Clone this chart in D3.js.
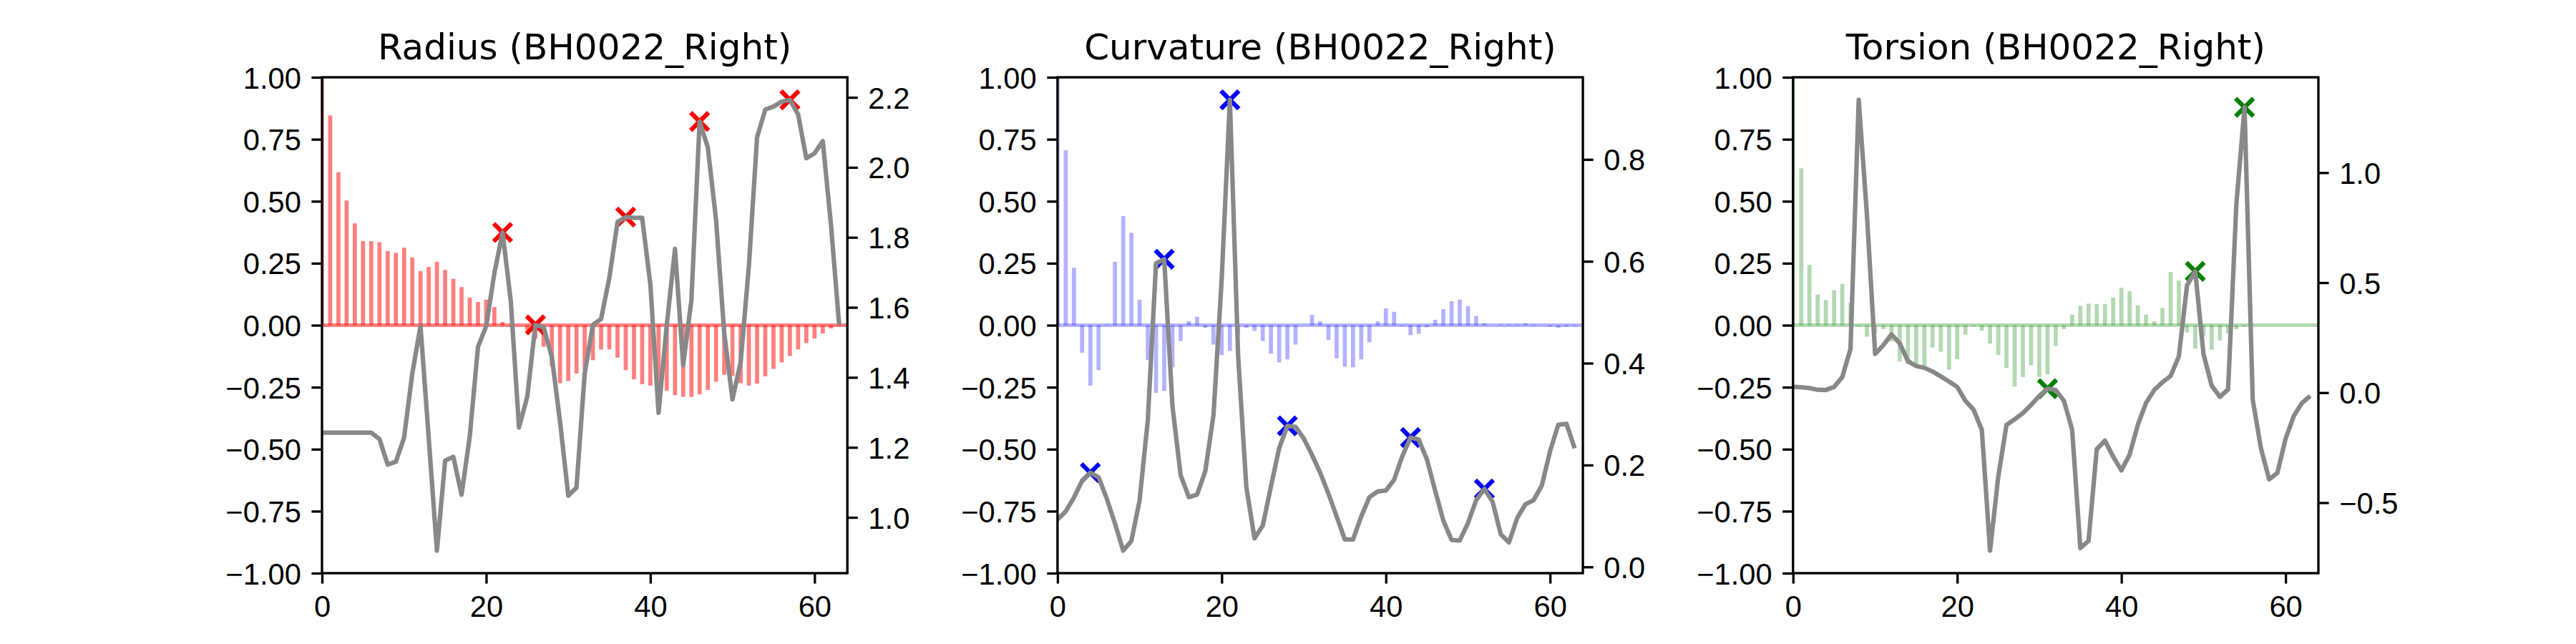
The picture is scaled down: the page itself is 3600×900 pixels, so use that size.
<!DOCTYPE html>
<html lang="en">
<head>
<meta charset="UTF-8">
<title>Radius / Curvature / Torsion (BH0022_Right)</title>
<script src="https://d3js.org/d3.v7.min.js"></script>
<style>
  body { margin: 0; background: #fff; }
  svg { display: block; font-family: "DejaVu Sans", sans-serif; }
  .tick text { font-size: 41.7px; fill: #000; }
  .tick line { stroke: #000; stroke-width: 3.33px; }
  .title { font-size: 50px; text-anchor: middle; }
</style>
</head>
<body>
<div id="chart"></div>
<script>
// ---- data (index 0..63) ----
const radiusBars = [1.0, 0.846, 0.617, 0.503, 0.411, 0.339, 0.339, 0.335, 0.299, 0.292,
  0.313, 0.273, 0.218, 0.235, 0.256, 0.223, 0.187, 0.154, 0.111, 0.094,
  0.103, 0.073, 0.013, -0.004, 0.0, -0.02, -0.055, -0.087, -0.166, -0.234,
  -0.225, -0.195, -0.179, -0.141, -0.098, -0.097, -0.131, -0.181, -0.218, -0.238,
  -0.244, -0.242, -0.264, -0.282, -0.289, -0.289, -0.279, -0.261, -0.228, -0.200,
  -0.205, -0.234, -0.243, -0.235, -0.206, -0.176, -0.150, -0.124, -0.097, -0.072,
  -0.054, -0.033, -0.013, -0.004];
const radiusLine = [1.242, 1.242, 1.242, 1.242, 1.242, 1.242, 1.242, 1.224, 1.151, 1.159,
  1.228, 1.411, 1.547, 1.227, 0.905, 1.162, 1.173, 1.065, 1.231, 1.487,
  1.546, 1.698, 1.814, 1.617, 1.257, 1.344, 1.550, 1.543, 1.458, 1.273,
  1.062, 1.085, 1.411, 1.550, 1.567, 1.684, 1.844, 1.858, 1.856, 1.856,
  1.666, 1.299, 1.550, 1.767, 1.435, 1.621, 2.131, 2.057, 1.851, 1.527,
  1.337, 1.444, 1.717, 2.086, 2.165, 2.174, 2.188, 2.193, 2.151, 2.026,
  2.040, 2.075, 1.837, 1.550];
const radiusPeaks = [22, 26, 37, 46, 57];
const radiusTicks = [1.0, 1.2, 1.4, 1.6, 1.8, 2.0, 2.2];

const curvBars = [1.0, 0.706, 0.232, -0.111, -0.244, -0.181, 0.003, 0.256, 0.440, 0.373,
  0.103, -0.140, -0.273, -0.265, -0.170, -0.064, 0.016, 0.034, -0.010, -0.078,
  -0.120, -0.104, -0.038, -0.010, -0.023, -0.064, -0.115, -0.150, -0.138, -0.078,
  0.0, 0.042, 0.016, -0.060, -0.133, -0.167, -0.170, -0.138, -0.069, 0.016,
  0.068, 0.054, -0.003, -0.040, -0.035, -0.008, 0.022, 0.065, 0.097, 0.103,
  0.077, 0.037, 0.007, 0.0, 0.003, 0.003, 0.003, 0.007, 0.003, -0.001,
  -0.005, -0.010, -0.005, -0.003];
const curvLine = [0.093, 0.109, 0.136, 0.169, 0.185, 0.176, 0.134, 0.085, 0.032, 0.051,
  0.131, 0.288, 0.596, 0.604, 0.316, 0.180, 0.137, 0.142, 0.188, 0.298,
  0.565, 0.917, 0.415, 0.157, 0.056, 0.081, 0.158, 0.233, 0.277, 0.275,
  0.252, 0.220, 0.185, 0.144, 0.099, 0.054, 0.054, 0.099, 0.137, 0.148,
  0.150, 0.171, 0.217, 0.254, 0.250, 0.211, 0.150, 0.091, 0.053, 0.052,
  0.086, 0.131, 0.153, 0.128, 0.064, 0.048, 0.096, 0.123, 0.131, 0.160,
  0.227, 0.279, 0.281, 0.233];
const curvPeaks = [4, 13, 21, 28, 43, 52];
const curvTicks = [0.0, 0.2, 0.4, 0.6, 0.8];

const torsBars = [1.0, 0.633, 0.243, 0.124, 0.102, 0.141, 0.167, 0.091, -0.004, -0.046,
  -0.035, -0.016, -0.065, -0.146, -0.157, -0.166, -0.163, -0.090, -0.107, -0.179,
  -0.137, -0.038, -0.005, -0.022, -0.074, -0.120, -0.172, -0.247, -0.209, -0.162,
  -0.208, -0.198, -0.084, -0.016, 0.043, 0.078, 0.087, 0.085, 0.085, 0.111,
  0.151, 0.137, 0.080, 0.043, 0.016, 0.070, 0.215, 0.180, -0.029, -0.094,
  -0.042, -0.098, -0.061, -0.033, -0.016, -0.005, 0, 0, 0, 0,
  0, 0, 0, 0];
const torsLine = [0.026, 0.025, 0.021, 0.013, 0.012, 0.026, 0.071, 0.199, 1.331, 0.809,
  0.176, 0.216, 0.265, 0.224, 0.143, 0.121, 0.113, 0.096, 0.074, 0.051,
  0.026, -0.037, -0.078, -0.169, -0.718, -0.382, -0.147, -0.121, -0.093, -0.056,
  -0.015, 0.018, 0.012, -0.037, -0.169, -0.706, -0.674, -0.257, -0.218, -0.291,
  -0.353, -0.282, -0.147, -0.047, 0.012, 0.047, 0.076, 0.165, 0.488, 0.551,
  0.176, 0.032, -0.019, 0.015, 0.853, 1.297, -0.032, -0.253, -0.394, -0.365,
  -0.210, -0.106, -0.047, -0.015];
const torsPeaks = [31, 49, 55];
const torsTicks = [-0.5, 0.0, 0.5, 1.0];

const leftTicks = [-1.0, -0.75, -0.5, -0.25, 0.0, 0.25, 0.5, 0.75, 1.0];
const xTicks = [0, 20, 40, 60];
const titles = ["Radius (BH0022_Right)", "Curvature (BH0022_Right)", "Torsion (BH0022_Right)"];

const panels = [
  {title: titles[0], bars: radiusBars, line: radiusLine, peaks: radiusPeaks, rticks: radiusTicks, color: "#ff0000", alpha: 0.5},
  {title: titles[1], bars: curvBars, line: curvLine, peaks: curvPeaks, rticks: curvTicks, color: "#0000ff", alpha: 0.3},
  {title: titles[2], bars: torsBars, line: torsLine, peaks: torsPeaks, rticks: torsTicks, color: "#008000", alpha: 0.3}
];

// ---- layout (matplotlib-ish: 12x3 in at 300 dpi) ----
const W = 3600, H = 900, pt = 300 / 72;
const figL = 450, figR = 3240, axTop = 108, axBot = 801;
const axW = (figR - figL) / (3 + 0.4 * 2), gap = 0.4 * axW;
const tickLen = 3.5 * pt, tickPad = 3.5 * pt;

const svg = d3.select("#chart").append("svg")
  .attr("width", W).attr("height", H);

panels.forEach((p, k) => {
  const x0 = figL + k * (axW + gap);
  const g = svg.append("g").attr("transform", `translate(${x0},0)`);
  const idx = p.line.map((_, i) => i);

  const x = d3.scaleLinear().domain([0, 64]).range([0, axW]);
  const y = d3.scaleLinear().domain([-1, 1]).range([axBot, axTop]);
  const [lo, hi] = d3.extent(p.line);
  const pad = (hi - lo) * 0.05;
  const y2 = d3.scaleLinear().domain([lo - pad, hi + pad]).range([axBot, axTop]);

  const clipId = "clip" + k;
  g.append("clipPath").attr("id", clipId)
    .append("rect").attr("x", 0).attr("y", axTop).attr("width", axW).attr("height", axBot - axTop);

  const plot = g.append("g").attr("clip-path", `url(#${clipId})`);

  // bars
  plot.selectAll("rect.bar").data(p.bars).join("rect")
    .attr("class", "bar")
    .attr("x", (d, i) => x(i - 0.25))
    .attr("width", x(0.5) - x(0))
    .attr("y", d => y(Math.max(0, d)))
    .attr("height", d => Math.abs(y(d) - y(0)))
    .attr("fill", p.color).attr("fill-opacity", p.alpha);

  // zero line
  plot.append("line")
    .attr("x1", 0).attr("x2", axW).attr("y1", y(0)).attr("y2", y(0))
    .attr("stroke", p.color).attr("stroke-opacity", p.alpha).attr("stroke-width", 5);

  // peak markers (sit under the grey line in the reference)
  const r = 3 * pt;
  plot.selectAll("path.mk").data(p.peaks).join("path")
    .attr("class", "mk")
    .attr("transform", i => `translate(${x(i)},${y2(p.line[i])})`)
    .attr("d", `M${-r},${-r}L${r},${r}M${-r},${r}L${r},${-r}`)
    .attr("stroke", p.color).attr("stroke-width", 1.5 * pt);

  // grey line on twin axis
  plot.append("path").datum(idx)
    .attr("d", d3.line().x(i => x(i)).y(i => y2(p.line[i])))
    .attr("fill", "none").attr("stroke", "#888888")
    .attr("stroke-width", 1.5 * pt).attr("stroke-linejoin", "round");

  // axes
  const fmt2 = d3.format(".2f"), fmt1 = d3.format(".1f");
  const ax = g.append("g").attr("transform", `translate(0,${axBot})`)
    .call(d3.axisBottom(x).tickValues(xTicks).tickFormat(d3.format("d"))
      .tickSize(tickLen).tickPadding(tickPad).tickSizeOuter(0));
  ax.selectAll("text").attr("dy", "0.76em");
  const ay = g.append("g")
    .call(d3.axisLeft(y).tickValues(leftTicks).tickFormat(fmt2)
      .tickSize(tickLen).tickPadding(tickPad).tickSizeOuter(0));
  ay.selectAll("text").attr("dy", "0.36em");
  const ay2 = g.append("g").attr("transform", `translate(${axW},0)`)
    .call(d3.axisRight(y2).tickValues(p.rticks).tickFormat(fmt1)
      .tickSize(tickLen).tickPadding(tickPad).tickSizeOuter(0));
  ay2.selectAll("text").attr("dy", "0.36em");
  g.selectAll(".domain").remove();

  // spines
  g.append("rect").attr("x", 0).attr("y", axTop).attr("width", axW).attr("height", axBot - axTop)
    .attr("fill", "none").attr("stroke", "#000").attr("stroke-width", 0.8 * pt);

  g.append("text").attr("class", "title")
    .attr("x", axW / 2).attr("y", axTop - 6 * pt)
    .text(p.title);
});
</script>
</body>
</html>
